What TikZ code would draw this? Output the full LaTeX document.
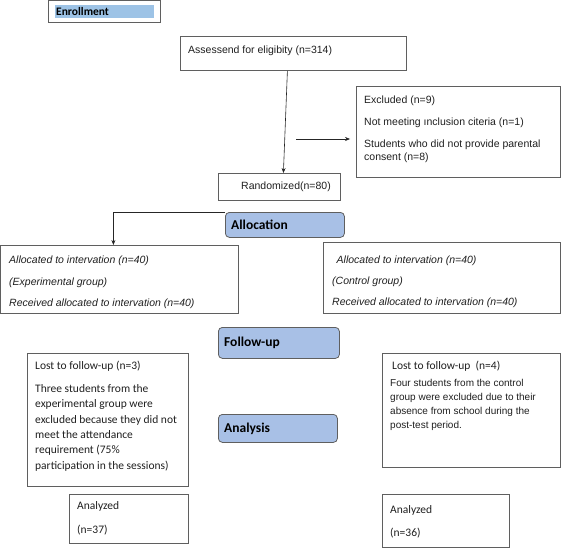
\documentclass[tikz,border=0pt]{standalone}
\usepackage{fontspec}
\setmainfont{Liberation Sans}
\newfontfamily\calibri{Carlito}
\usetikzlibrary{arrows.meta, positioning}

\definecolor{boxgray}{RGB}{95,95,95}
\definecolor{stageblue}{RGB}{168,192,230}
\definecolor{enrolblue}{RGB}{157,195,230}

\begin{document}
\begin{tikzpicture}[x=1pt, y=-1pt,
    box/.style={draw=boxgray, line width=0.8pt, inner sep=0pt, anchor=north west},
    stage/.style={box, rounded corners=4pt, fill=stageblue},
    stagetxt/.style={anchor=west, inner sep=0pt, font={\calibri\bfseries\fontsize{13.5}{15}\selectfont}},
    txt/.style={anchor=north west, inner sep=0pt, align=left, text=black!88, font={\fontsize{10.5}{13}\selectfont}},
    cal/.style={anchor=north west, inner sep=0pt, align=left, text=black!88, font={\calibri\fontsize{11.5}{15.3}\selectfont}},
    arr/.style={draw=black!85, line width=0.6pt, -{Stealth[length=5pt, width=4pt]}}]
    \useasboundingbox (0,0) rectangle (561,548);

    % Enrollment header
    \node[box, minimum width=112, minimum height=22] (enrol) at (48,0) {};
    \fill[enrolblue] (55,5) rectangle (154,18);
    \node[anchor=west, inner sep=0pt, font={\calibri\bfseries\fontsize{11.5}{13}\selectfont}] (enroltxt) at (56,12) {Enrollment};

    % Stage labels
    \foreach \nm/\x/\y/\w/\h/\lab in {alloc/225/212/119/25/Allocation, follow/218/327/121/31/Follow-up, analysis/218/414/119/28/Analysis} {
        \node[stage, minimum width=\w, minimum height=\h] (\nm) at (\x,\y) {};
        \node[stagetxt] (\nm-txt) at ([xshift=6]\nm.west) {\lab};
    }

    % Boxes
    \node[box, minimum width=226, minimum height=34] (assess) at (180,36) {};
    \node[box, minimum width=204, minimum height=91] (excl) at (356,86) {};
    \node[box, minimum width=122, minimum height=27] (rand) at (218,173) {};
    \node[box, minimum width=238, minimum height=68] (expt) at (0,245) {};
    \node[box, minimum width=237, minimum height=71] (ctrl) at (323,242) {};
    \node[box, minimum width=161, minimum height=133] (lostA) at (27,353) {};
    \node[box, minimum width=178, minimum height=114] (lostB) at (382,353) {};
    \node[box, minimum width=119, minimum height=49] (anA) at (69,494) {};
    \node[box, minimum width=127, minimum height=53] (anB) at (382,494) {};

    % Texts
    \node[txt, anchor=west] (assess-txt) at (188,51) {Assessend for eligibity (n=314)};
    \node[txt] (excl-txt) at (364,96) {Excluded (n=9)\\[9pt]Not meeting ınclusion citeria (n=1)\\[9pt]Students who did not provide parental\\consent (n=8)};
    \node[txt, anchor=west] (rand-txt) at (241,187) {Randomized(n=80)};
    \node[txt, font={\itshape\fontsize{10.5}{21.5}\selectfont}] (expt-txt) at (9,256) {Allocated to intervation (n=40)\\(Experimental group)\\Received allocated to intervation (n=40)};
    \node[txt, font={\itshape\fontsize{10.5}{21}\selectfont}] (ctrl-txt) at (332,256) {\hspace*{4.5pt}Allocated to intervation (n=40)\\(Control group)\\Received allocated to intervation (n=40)};
    \node[cal] (lostA-txt) at (35,361) {Lost to follow-up (n=3)\\[7.7pt]Three students from the\\experimental group were\\excluded because they did not\\meet the attendance\\requirement (75\%\\participation in the sessions)};
    \node[cal, anchor=west] (lostB-title) at (392,366) {Lost to follow-up\ \ (n=4)};
    \node[txt, font={\fontsize{10}{14}\selectfont}] (lostB-txt) at (390,379) {Four students from the control\\group were excluded due to their\\absence from school during the\\post-test period.};
    \node[cal, font={\calibri\fontsize{11.5}{24}\selectfont}] (anA-txt) at (77,501) {Analyzed\\(n=37)};
    \node[cal, font={\calibri\fontsize{11.5}{23}\selectfont}] (anB-txt) at (390,505) {Analyzed\\(n=36)};

    % Arrows
    \coordinate (split) at (296,139);
    \draw[arr] ([xshift=-6]assess.south) -- ([xshift=4]rand.north);
    \draw[arr, shorten >=6pt] (split) -- (split -| excl.west);
    \draw[arr] (alloc.north west) -| ([xshift=-6]expt.north);

\end{tikzpicture}
\end{document}
